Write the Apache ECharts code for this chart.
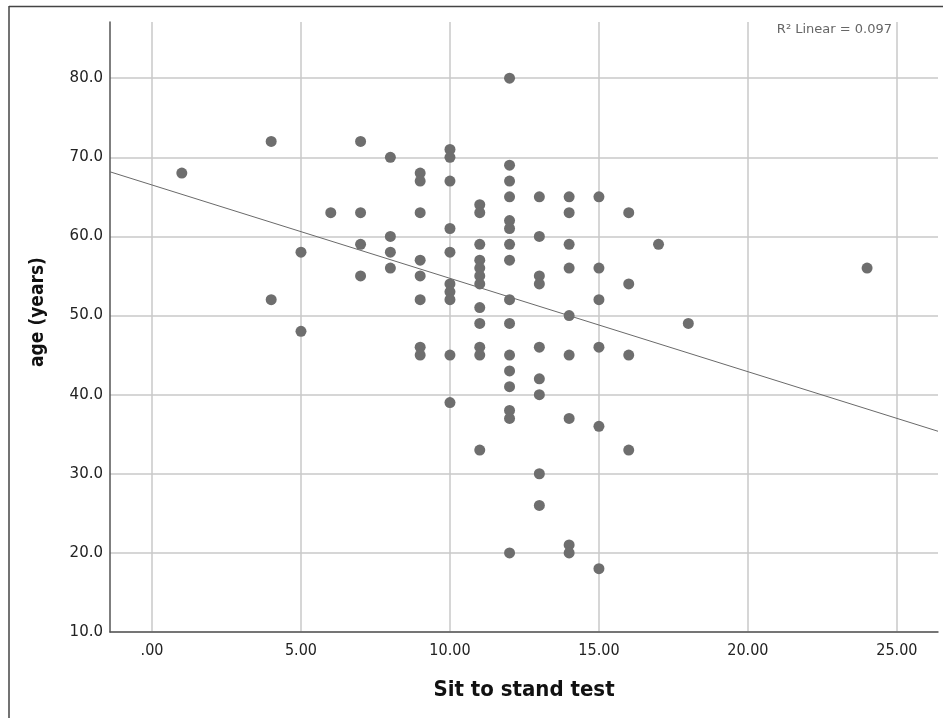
<!DOCTYPE html>
<html>
<head>
<meta charset="utf-8">
<title>Sit to stand test vs age</title>
<script src="https://cdn.jsdelivr.net/npm/echarts@6/dist/echarts.min.js"></script>
<style>
  html, body { margin: 0; padding: 0; background: #fff; }
  #chart { width: 943px; height: 718px; }
</style>
</head>
<body>
<div id="chart"></div>
<script>
  // sit to stand score / age pairs
  var sitStand = [
    1,
    4, 4,
    5, 5,
    6,
    7, 7, 7, 7,
    8, 8, 8, 8,
    9, 9, 9, 9, 9, 9, 9, 9,
    10, 10, 10, 10, 10, 10, 10, 10, 10, 10,
    11, 11, 11, 11, 11, 11, 11, 11, 11, 11, 11, 11,
    12, 12, 12, 12, 12, 12, 12, 12, 12, 12, 12, 12, 12, 12, 12, 12,
    13, 13, 13, 13, 13, 13, 13, 13, 13,
    14, 14, 14, 14, 14, 14, 14, 14, 14,
    15, 15, 15, 15, 15, 15,
    16, 16, 16, 16,
    17,
    18,
    24
  ];
  var ageYears = [
    68,
    72, 52,
    58, 48,
    63,
    72, 63, 59, 55,
    70, 60, 58, 56,
    68, 67, 63, 57, 55, 52, 46, 45,
    71, 70, 67, 61, 58, 54, 53, 52, 45, 39,
    64, 63, 59, 57, 56, 55, 54, 51, 49, 46, 45, 33,
    80, 69, 67, 65, 62, 61, 59, 57, 52, 49, 45, 43, 41, 38, 37, 20,
    65, 60, 55, 54, 46, 42, 40, 30, 26,
    65, 63, 59, 56, 50, 45, 37, 21, 20,
    65, 56, 52, 46, 36, 18,
    63, 54, 45, 33,
    59,
    49,
    56
  ];

  // linear fit shown in the plot
  var fitIntercept = 66.5;
  var fitSlope = -1.18;
  var fitLabel = 'R\u00b2 Linear = 0.097';

  var xRange = [-1.41, 26.38];
  var yRange = [10, 87.1];

  var points = sitStand.map(function (x, i) { return [x, ageYears[i]]; });
  var fitLine = xRange.map(function (x) { return [x, fitIntercept + fitSlope * x]; });

  var myChart = echarts.init(document.getElementById('chart'));

  var option = {
    animation: false,
    backgroundColor: '#fff',
    grid: {
      left: 110,
      right: 5,
      top: 22,
      bottom: 86
    },
    xAxis: {
      type: 'value',
      min: xRange[0],
      max: xRange[1],
      minInterval: 5,
      maxInterval: 5,
      name: 'Sit to stand test',
      nameLocation: 'middle',
      nameGap: 47,
      nameTextStyle: {
        fontFamily: 'DejaVu Sans Condensed',
        fontWeight: 'bold',
        fontSize: 22,
        color: '#111'
      },
      axisLine: { onZero: false, lineStyle: { color: '#555', width: 1.5 } },
      axisTick: { show: false },
      axisLabel: {
        showMinLabel: false,
        showMaxLabel: false,
        margin: 11,
        fontFamily: 'DejaVu Sans Condensed',
        fontSize: 16,
        color: '#222',
        formatter: function (v) {
          var s = v.toFixed(2);
          return s.indexOf('0.') === 0 ? s.slice(1) : s;
        }
      },
      splitLine: {
        showMinLine: false,
        showMaxLine: false,
        lineStyle: { color: '#c9c9c9', width: 1.5 }
      }
    },
    yAxis: {
      type: 'value',
      min: yRange[0],
      max: yRange[1],
      interval: 10,
      name: 'age (years)',
      nameLocation: 'middle',
      nameGap: 62,
      nameTextStyle: {
        fontFamily: 'DejaVu Sans Condensed',
        fontWeight: 'bold',
        fontSize: 19,
        color: '#111',
        padding: [0, 0, 0, 30]
      },
      axisLine: { show: true, onZero: false, lineStyle: { color: '#555', width: 1.5 } },
      axisTick: { show: false },
      axisLabel: {
        showMaxLabel: false,
        margin: 7,
        fontFamily: 'DejaVu Sans',
        fontSize: 15,
        color: '#222',
        formatter: function (v) { return v.toFixed(1); }
      },
      splitLine: {
        showMaxLine: false,
        lineStyle: { color: '#c9c9c9', width: 1.5 }
      }
    },
    graphic: [
      {
        type: 'line',
        shape: { x1: 9, y1: 6.5, x2: 943, y2: 6.5 },
        style: { stroke: '#444', lineWidth: 1.5 },
        silent: true
      },
      {
        type: 'line',
        shape: { x1: 9, y1: 6, x2: 9, y2: 718 },
        style: { stroke: '#444', lineWidth: 1.5 },
        silent: true
      },
      {
        type: 'text',
        right: 51,
        top: 23,
        style: {
          text: fitLabel,
          font: '13px "DejaVu Sans"',
          fill: '#666'
        },
        silent: true
      }
    ],
    series: [
      {
        type: 'line',
        data: fitLine,
        showSymbol: false,
        symbol: 'none',
        lineStyle: { color: '#6a6a6a', width: 1 },
        z: 1
      },
      {
        type: 'scatter',
        data: points,
        symbolSize: 11,
        itemStyle: { color: '#6e6e6e', opacity: 1 },
        z: 2
      }
    ]
  };

  myChart.setOption(option);
</script>
</body>
</html>
